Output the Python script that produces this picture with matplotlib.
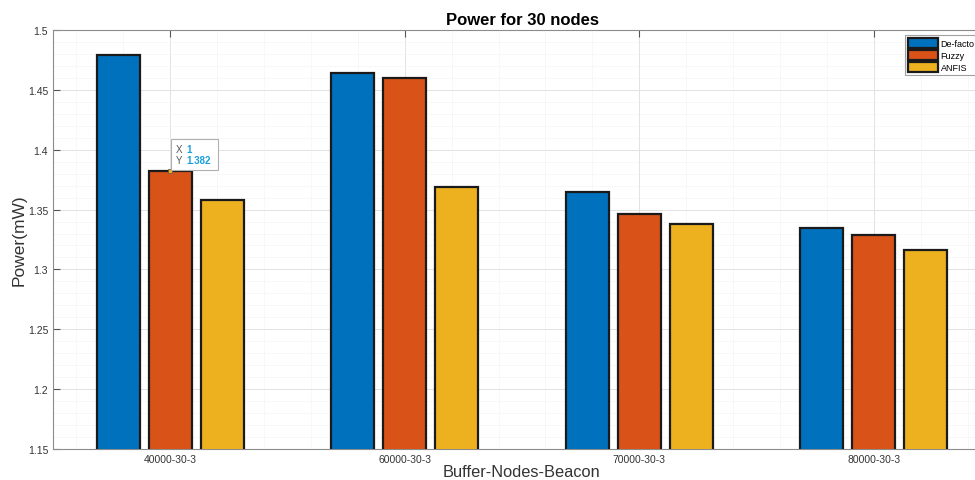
import numpy as np
import matplotlib
matplotlib.use("Agg")
import matplotlib.pyplot as plt
from matplotlib.ticker import MultipleLocator
from matplotlib.patches import Rectangle
from matplotlib.transforms import Affine2D, ScaledTranslation

# data
groups = ["40000-30-3", "60000-30-3", "70000-30-3", "80000-30-3"]
defacto = [1.479, 1.464, 1.365, 1.335]
fuzzy = [1.382, 1.460, 1.346, 1.329]
anfis = [1.358, 1.369, 1.338, 1.316]
series_names = ["De-facto", "Fuzzy", "ANFIS"]
colors = ["#0072BD", "#D95319", "#EDB120"]

plt.rcParams["font.family"] = ["Liberation Sans", "DejaVu Sans"]

fig = plt.figure(figsize=(9.75, 4.81), dpi=100)
# axes runs past the right border like in the screenshot
ax = fig.add_axes([53 / 975, 1 - 450 / 481, 938 / 975, 419 / 481])

x = np.arange(1, len(groups) + 1)
step = 0.222
width = 0.183
for i, (vals, name, c) in enumerate(zip([defacto, fuzzy, anfis], series_names, colors)):
    ax.bar(x + (i - 1) * step, vals, width=width, color=c, edgecolor="#1a1a1a",
           linewidth=1.6, label=name, zorder=3)

ax.set_xlim(0.5, 4.5)
ax.set_ylim(1.15, 1.5)
ax.set_xticks(x)
ax.set_xticklabels(groups, fontsize=7.5, color="#333333")
ax.set_yticks(np.arange(1.15, 1.501, 0.05))
ax.set_yticklabels(["1.15", "1.2", "1.25", "1.3", "1.35", "1.4", "1.45", "1.5"],
                   fontsize=7.5, color="#333333")
ax.xaxis.set_minor_locator(MultipleLocator(0.2))
ax.yaxis.set_minor_locator(MultipleLocator(0.01))
ax.tick_params(which="both", direction="in", top=True, right=True, colors="#555555",
               labelcolor="#333333")
ax.tick_params(which="minor", length=0)
ax.tick_params(which="major", length=5, width=0.8)
ax.grid(which="major", color="#e2e2e2", linewidth=0.7, zorder=0)
ax.grid(which="minor", color="#efefef", linewidth=0.6, linestyle=(0, (1, 1)), zorder=0)
ax.set_axisbelow(True)
for s in ax.spines.values():
    s.set_color("#8c8c8c")
    s.set_linewidth(0.8)

ax.set_title("Power for 30 nodes", fontsize=12, fontweight="bold", pad=4)
ax.set_xlabel("Buffer-Nodes-Beacon", fontsize=11.8, color="#333333", labelpad=0)
ax.set_ylabel("Power(mW)", fontsize=12.5, color="#333333", labelpad=1)

leg = ax.legend(loc="upper left", bbox_to_anchor=((905 - 53) / 938, (450 - 36) / 419),
                fontsize=6.5, frameon=True, fancybox=False, borderpad=0.35,
                handlelength=3.3, handleheight=1.3, labelspacing=0.2, handletextpad=0.3,
                borderaxespad=0)
leg.get_frame().set_edgecolor("#888888")
leg.get_frame().set_linewidth(0.8)

# data tip on the first Fuzzy bar (box sized in pixels, anchored at the bar top)
tip_x, tip_y = x[0], fuzzy[0]
ax.plot([tip_x], [tip_y], marker="s", markersize=3, markerfacecolor="#EDB120",
        markeredgecolor="#555555", markeredgewidth=0.5, zorder=5)
px = Affine2D() + ScaledTranslation(tip_x, tip_y, ax.transData)
ax.add_patch(Rectangle((1, 1), 47, 31, transform=px, facecolor="white",
                       edgecolor="#b0b0b0", linewidth=0.8, zorder=6, clip_on=False))
for lab, val, dy in [("X", "1", 22), ("Y", "%.3f" % tip_y, 11)]:
    ax.annotate(lab, xy=(tip_x, tip_y), xytext=(6, dy), textcoords="offset pixels",
                fontsize=7, color="#555555", ha="left", va="center", zorder=7)
    ax.annotate(val, xy=(tip_x, tip_y), xytext=(16, dy), textcoords="offset pixels",
                fontsize=7, color="#1a9fd9", fontweight="bold", ha="left", va="center",
                zorder=7)

fig.savefig("out.png", dpi=100)
